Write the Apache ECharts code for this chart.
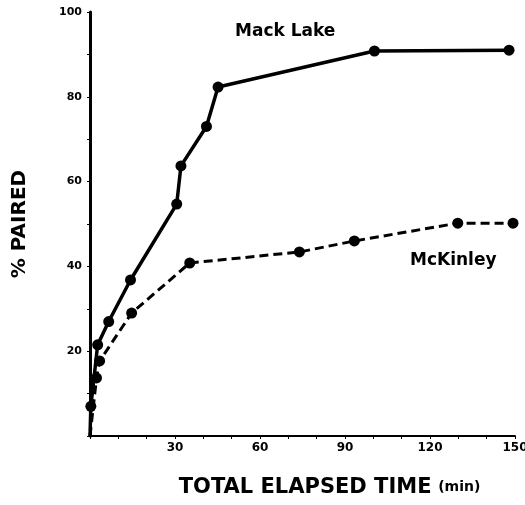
<!DOCTYPE html>
<html>
<head>
<meta charset="utf-8">
<script src="https://cdn.jsdelivr.net/npm/echarts@6/dist/echarts.min.js"></script>
<style>html,body{margin:0;padding:0;background:#fff;}#c{width:525px;height:505px;}</style>
</head>
<body>
<div id="c"></div>
<script>
var mackLake = [[0,0],[0.3,7],[2.7,21.5],[6.6,27],[14.3,36.8],[30.6,54.7],[32.1,63.7],[41.1,73],[45.2,82.3],[100.4,90.8],[147.9,91]];
var mcKinley = [[0,0],[2.3,13.7],[3.4,17.7],[14.7,29],[35.2,40.8],[73.9,43.4],[93.3,46],[129.8,50.2],[149.3,50.2]];
var xTickLabels = [30,60,90,120,150];
var yTickLabels = [20,40,60,80,100];
var FONT = 'DejaVu Sans';

function items(arr){
  return arr.map(function(p){
    return (p[0]===0 && p[1]===0) ? {value:p, symbol:'none'} : {value:p};
  });
}
var chart = echarts.init(document.getElementById('c'));
chart.setOption({
  animation:false,
  backgroundColor:'#fff',
  grid:{left:90,right:10,top:12,bottom:69,containLabel:false,outerBoundsMode:'none'},
  xAxis:{
    type:'value',min:0,max:150,interval:10,
    axisLine:{lineStyle:{color:'#000',width:2}},
    axisTick:{length:3,lineStyle:{color:'#000',width:1}},
    splitLine:{show:false},
    axisLabel:{color:'#000',fontFamily:FONT,fontWeight:'bold',fontSize:12,margin:6,
      formatter:function(v){return xTickLabels.indexOf(v)>=0?String(v):'';}},
    name:'{a|TOTAL ELAPSED TIME}  {b|(min)}',
    nameLocation:'middle',nameGap:41,
    nameTextStyle:{padding:[0,0,0,54],rich:{
      a:{fontFamily:FONT,fontWeight:'bold',fontSize:21,color:'#000'},
      b:{fontFamily:FONT,fontWeight:'bold',fontSize:14,color:'#000'}}}
  },
  yAxis:{
    type:'value',min:0,max:100,interval:10,
    axisLine:{lineStyle:{color:'#000',width:3}},
    axisTick:{length:3,lineStyle:{color:'#000',width:1}},
    splitLine:{show:false},
    axisLabel:{color:'#000',fontFamily:FONT,fontWeight:'bold',fontSize:11,margin:8,
      formatter:function(v){return yTickLabels.indexOf(v)>=0?String(v):'';}},
    name:'% PAIRED',nameLocation:'middle',nameGap:60,nameRotate:90,
    nameTextStyle:{fontFamily:FONT,fontWeight:'bold',fontSize:20,color:'#000'}
  },
  series:[
    {name:'Mack Lake',type:'line',data:items(mackLake),symbol:'circle',symbolSize:11,
     lineStyle:{color:'#000',width:3.5},itemStyle:{color:'#000'},z:3},
    {name:'McKinley',type:'line',data:items(mcKinley),symbol:'circle',symbolSize:11,
     lineStyle:{color:'#000',width:3,type:[9,5]},itemStyle:{color:'#000'},z:2}
  ],
  graphic:[
    {type:'text',left:235,top:23,style:{text:'Mack Lake',fontFamily:FONT,fontWeight:'bold',fontSize:17,fill:'#000'}},
    {type:'text',left:410,top:252,style:{text:'McKinley',fontFamily:FONT,fontWeight:'bold',fontSize:17,fill:'#000'}}
  ]
});
</script>
</body>
</html>
